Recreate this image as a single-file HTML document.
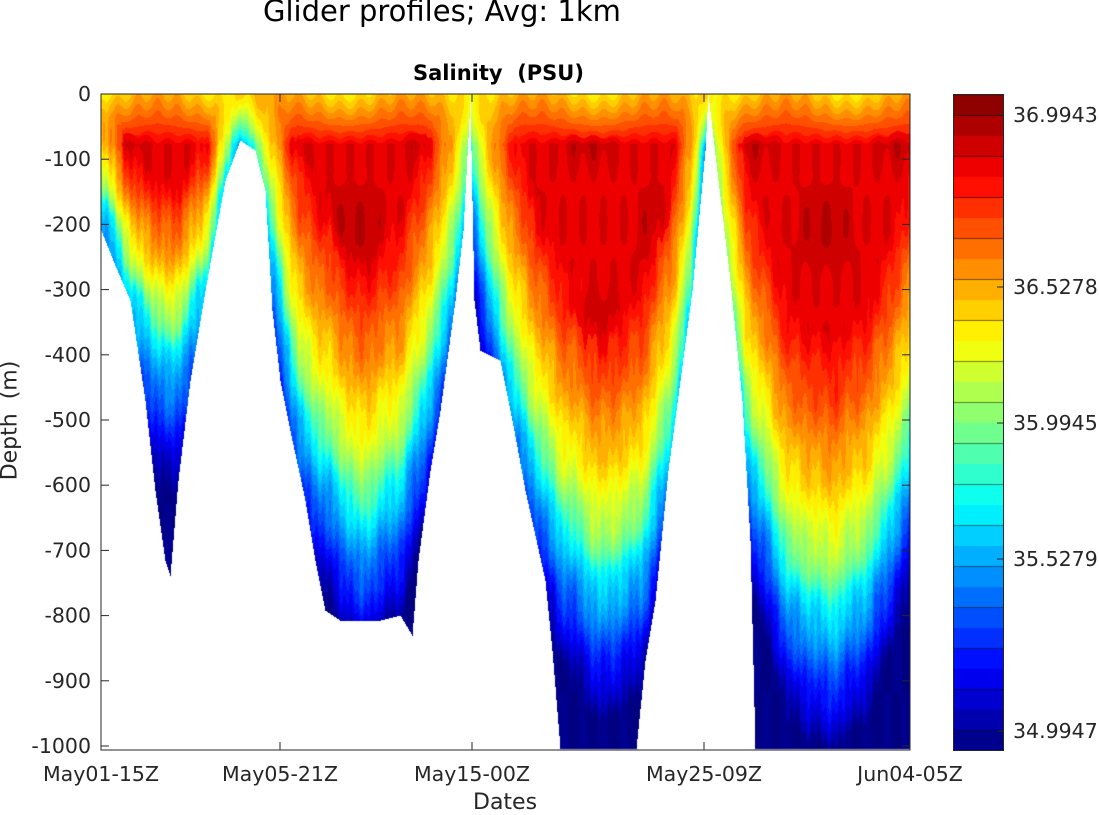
<!DOCTYPE html>
<html><head><style>
body{margin:0;background:#fff;width:1099px;height:814px;position:relative;overflow:hidden;font-family:"DejaVu Sans",sans-serif;color:#262626}
.t{position:absolute;white-space:nowrap}
</style></head><body>
<div class="t" style="left:263px;top:-6px;font-size:29px;color:#000">Glider profiles; Avg: 1km</div>
<div class="t" style="left:413px;top:61px;font-size:21px;font-weight:bold;color:#000">Salinity&nbsp; (PSU)</div>
<canvas id="c" width="809" height="656" style="position:absolute;left:101px;top:94px"></canvas>
<canvas id="cb" width="50" height="656" style="position:absolute;left:953px;top:94px"></canvas>
<svg width="1099" height="814" style="position:absolute;left:0;top:0" id="s"></svg>
<div class="t" style="left:473px;top:790px;font-size:22px">Dates</div>
<div class="t" style="left:-50px;top:408px;font-size:22px;transform:rotate(-90deg)">Depth&nbsp; (m)</div>
<script>
function jet(v){v=Math.max(0,Math.min(1,v));
function f(x){return Math.max(0,Math.min(1,1.5-Math.abs(x)));}
return [255*f(4*v-3),255*f(4*v-2),255*f(4*v-1)];}
function interp(p,x){if(x<=p[0][0])return p[0][1];for(let i=1;i<p.length;i++){if(x<=p[i][0]){const a=p[i-1],b=p[i];return a[1]+(b[1]-a[1])*(x-a[0])/(b[0]-a[0]||1);}}return p[p.length-1][1];}
const B=[[101,230],[115,265],[130,300],[145,400],[155,490],[165,560],[170,575],[178,480],[190,380],[205,290],[225,180],[240,140],[255,150],[265,190],[272,310],[280,380],[292,440],[305,500],[315,560],[325,610],[340,620],[380,620],[400,615],[412,635],[418,560],[430,470],[440,410],[455,300],[463,230],[470,100],[474,300],[480,350],[500,360],[512,420],[525,490],[545,580],[552,650],[560,748],[636,748],[645,660],[655,600],[668,470],[680,380],[692,290],[705,150],[708,94],[718,180],[730,280],[742,400],[750,540],[755,748],[910,748]];
const C=[[101,185],[135,300],[170,350],[205,270],[240,100],[265,200],[300,400],[360,525],[400,470],[440,330],[465,200],[470,150],[490,280],[520,400],[560,520],[600,580],[640,540],[670,430],[690,300],[705,110],[720,230],[745,420],[790,580],[830,610],[870,560],[900,480],[910,450]];
const L=[[101,110],[170,170],[230,120],[245,200],[300,260],[470,260],[910,280]];
const cv=document.getElementById('c'),ctx=cv.getContext('2d'),im=ctx.createImageData(809,656);
const N=32;
for(let px=0;px<809;px++){const x=px+101;const b=interp(B,x),c=interp(C,x),la=interp(L,x);
const xn=6*Math.sin(x*0.9)+5*Math.sin(x*0.23+1)+4*Math.sin(x*0.057);
for(let py=0;py<656;py++){const y=py+94;const k=(py*809+px)*4;
if(y>b){im.data[k]=im.data[k+1]=im.data[k+2]=255;im.data[k+3]=255;continue;}
let v;const yy=y+xn+4*Math.sin(y*0.08+x*0.02);
if(yy>=c){v=0.38-0.38*Math.min(1,(yy-c)/150);}else{v=0.38+0.52*Math.pow(Math.min(1,(c-yy)/la),0.65);}
const d=y-94;if(d<50){const w=Math.pow(1-d/50,0.8);v=v*(1-w)+(0.68+0.04*Math.sin(x*0.05))*w;}
v+=0.02*Math.sin(x*0.31)*Math.sin(y*0.05);
if(v>0.84)v+=0.04*Math.max(0,Math.sin(x*0.04)*Math.sin(y*0.03+1));
const q=(Math.floor(v*N)+0.5)/N;const col=jet(q);
im.data[k]=col[0];im.data[k+1]=col[1];im.data[k+2]=col[2];im.data[k+3]=255;}}
ctx.putImageData(im,0,0);
const cb=document.getElementById('cb').getContext('2d');
for(let i=0;i<N;i++){const col=jet((i+0.5)/N);cb.fillStyle=`rgb(${col[0]|0},${col[1]|0},${col[2]|0})`;const y0=656-(i+1)*656/N;cb.fillRect(0,y0,50,656/N+1);cb.fillStyle='#000';cb.fillRect(0,Math.round(y0),50,1);}
let s='';
s+='<rect x="101" y="94" width="809" height="656" fill="none" stroke="#262626" stroke-width="1"/>';
s+='<rect x="953.5" y="94.5" width="50" height="656" fill="none" stroke="#262626" stroke-width="1"/>';
const F='font-family="DejaVu Sans"';
const yt=[0,-100,-200,-300,-400,-500,-600,-700,-800,-900,-1000];
yt.forEach((t,i)=>{const y=94+i*65.2;s+=`<line x1="101" x2="109" y1="${y}" y2="${y}" stroke="#262626"/><line x1="902" x2="910" y1="${y}" y2="${y}" stroke="#262626"/><text x="91" y="${y+7}" font-size="20.5" text-anchor="end" fill="#262626" ${F}>${t}</text>`;});
const xt=[[101,'May01-15Z'],[280,'May05-21Z'],[472,'May15-00Z'],[704,'May25-09Z'],[910,'Jun04-05Z']];
xt.forEach(([x,t])=>{s+=`<line x1="${x}" x2="${x}" y1="750" y2="742" stroke="#262626"/><line x1="${x}" x2="${x}" y1="94" y2="102" stroke="#262626"/><text x="${x}" y="781" font-size="20.5" text-anchor="middle" fill="#262626" ${F}>${t}</text>`;});
[[115,'36.9943'],[287,'36.5278'],[423,'35.9945'],[559,'35.5279'],[731,'34.9947']].forEach(([y,t])=>{s+=`<line x1="997" x2="1003" y1="${y}" y2="${y}" stroke="#262626"/><text x="1013" y="${y+7}" font-size="20.5" fill="#262626" ${F}>${t}</text>`;});
document.getElementById('s').innerHTML=s;
</script>
</body></html>
